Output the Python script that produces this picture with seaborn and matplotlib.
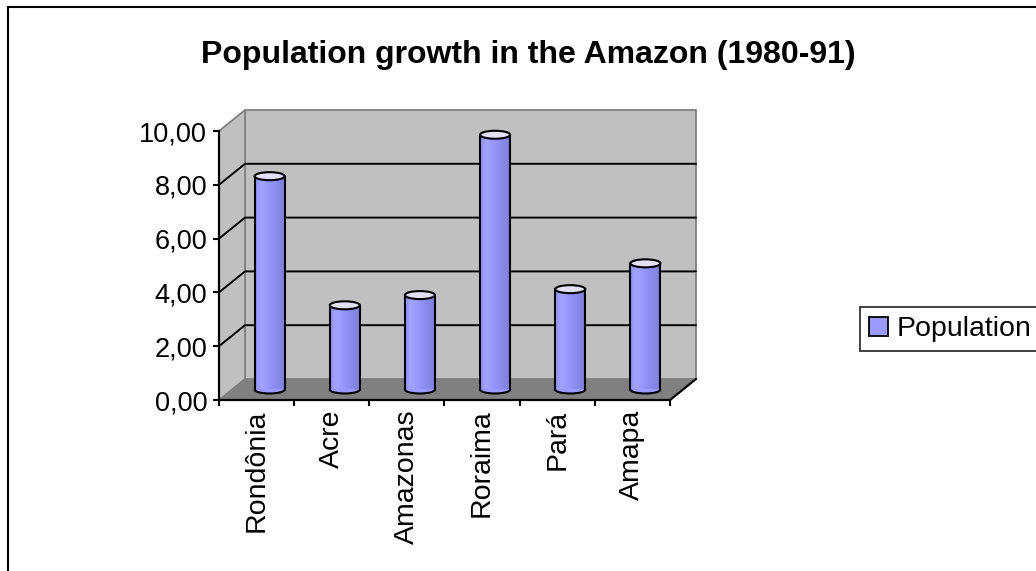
import numpy as np
import matplotlib
matplotlib.use("Agg")
import matplotlib.pyplot as plt
import matplotlib.transforms as mtransforms
from matplotlib.patches import Polygon, Ellipse, Rectangle, Patch, Arc
from matplotlib.colors import LinearSegmentedColormap
import seaborn as sns

# ---------------- data ----------------
categories = ["Rondônia", "Acre", "Amazonas", "Roraima", "Pará", "Amapa"]
values = [7.93, 3.13, 3.51, 9.47, 3.73, 4.69]
yticks = [0, 2, 4, 6, 8, 10]
ytick_labels = ["0,00", "2,00", "4,00", "6,00", "8,00", "10,00"]
title = "Population growth in the Amazon (1980-91)"
legend_label = "Population"

# ---------------- style ----------------
sns.set_theme(style="white")
plt.rcParams["font.family"] = ["Liberation Sans", "DejaVu Sans"]
plt.rcParams["text.color"] = "black"
plt.rcParams["xtick.color"] = "black"
plt.rcParams["ytick.color"] = "black"
plt.rcParams["axes.labelcolor"] = "black"

BAR = "#9999FF"
WALL = "#C0C0C0"
FLOOR = "#808080"

W, H, DPI = 1036, 571, 100
fig = plt.figure(figsize=(W / DPI, H / DPI), dpi=DPI)
fig.patch.set_facecolor("white")

# front plane of the 3-D box (pixel layout)
x0, x1 = 219, 670
yb, yt = 400, 131
ax = fig.add_axes([x0 / W, 1 - yb / H, (x1 - x0) / W, (yb - yt) / H])
ax.patch.set_visible(False)

n = len(categories)
xl, xr = -0.5, n - 0.5
px_per_cat = (x1 - x0) / n
px_per_val = (yb - yt) / 10.0
DX, DY = 26, 21
dxu, dyu = DX / px_per_cat, DY / px_per_val

# walls and floor
ax.add_patch(Polygon([(xl + dxu, dyu), (xr + dxu, dyu), (xr + dxu, 10 + dyu), (xl + dxu, 10 + dyu)],
                     closed=True, fc=WALL, ec="#808080", lw=1.3, zorder=0, clip_on=False))
ax.add_patch(Polygon([(xl, 0), (xl + dxu, dyu), (xl + dxu, 10 + dyu), (xl, 10)],
                     closed=True, fc=WALL, ec="#808080", lw=1.3, zorder=0, clip_on=False))
ax.add_patch(Polygon([(xl, 0), (xr, 0), (xr + dxu, dyu), (xl + dxu, dyu)],
                     closed=True, fc=FLOOR, ec="none", zorder=0.5, clip_on=False))
ax.plot([xr, xr + dxu], [0, dyu], color="black", lw=1.6, zorder=1, clip_on=False)
for v in yticks[1:-1]:
    ax.plot([xl, xl + dxu, xr + dxu], [v, v + dyu, v + dyu], color="black", lw=1.4,
            zorder=0.8, clip_on=False)

# bars (cylinders)
sns.barplot(x=categories, y=values, color=BAR, saturation=1, width=0.4, ax=ax,
            edgecolor="none", zorder=3)
bars = list(ax.containers[0])

mid = mtransforms.offset_copy(ax.transData, fig=fig, x=DX / 2, y=DY / 2, units="dots")
eh = 8 / px_per_val
cmap = LinearSegmentedColormap.from_list(
    "cyl", [(0.0, "#8E8EF2"), (0.18, "#A4A4FF"), (0.45, "#9696FA"), (0.7, "#8A8AEC"), (1.0, "#7E7EDC")])
grad = np.linspace(0, 1, 64)[None, :]

for p in bars:
    p.set_transform(mid)
    p.set_clip_on(False)
    x, w, h = p.get_x(), p.get_width(), p.get_height()
    cx = x + w / 2
    # bottom half-ellipse
    ax.add_patch(Ellipse((cx, 0), w, eh, fc=BAR, ec="none", transform=mid, zorder=2.9, clip_on=False))
    ax.add_patch(Arc((cx, 0), w, eh, theta1=180, theta2=360, color="black", lw=1.5,
                     transform=mid, zorder=4, clip_on=False))
    im = ax.imshow(grad, extent=[x, x + w, 0, h], transform=mid, aspect="auto",
                   cmap=cmap, zorder=3.1, interpolation="bilinear")
    im.set_clip_path(p)
    ax.plot([x, x], [0, h], color="black", lw=1.5, transform=mid, zorder=4, clip_on=False)
    ax.plot([x + w, x + w], [0, h], color="black", lw=1.5, transform=mid, zorder=4, clip_on=False)
    ax.add_patch(Ellipse((cx, h), w, eh, fc="#E2E2F4", ec="black", lw=1.5, transform=mid,
                         zorder=5, clip_on=False))

ax.set_xlim(xl, xr)
ax.set_ylim(0, 10)
ax.set_aspect("auto")

# axes
for s in ["top", "right"]:
    ax.spines[s].set_visible(False)
for s in ["left", "bottom"]:
    ax.spines[s].set_visible(True)
    ax.spines[s].set_color("black")
    ax.spines[s].set_linewidth(1.6)
    ax.spines[s].set_zorder(6)

ax.set_yticks(yticks, ytick_labels)
ax.tick_params(axis="y", left=True, direction="out", length=4.5, width=1.5, labelsize=19.5,
               pad=4, colors="black", labelcolor="black")
ax.set_xticks(range(n), categories, rotation=90)
ax.set_xticks(np.arange(xl, xr + 0.01, 1), minor=True)
ax.tick_params(axis="x", which="major", bottom=False, length=0, labelsize=20.5, pad=7,
               labelcolor="black")
ax.tick_params(axis="x", which="minor", bottom=True, direction="out", length=4.5, width=1.5,
               color="black")
ax.set_xlabel("")
ax.set_ylabel("")
ax.grid(False)

# title
fig.text(528 / W, 1 - 55 / H, title, ha="center", va="center", fontsize=23,
         fontweight="bold", color="black")

# legend
handle = Patch(facecolor=BAR, edgecolor="black", linewidth=1.3)
leg = fig.legend([handle], [legend_label], loc="upper left",
                 bbox_to_anchor=(860 / W, 1 - 307 / H), borderaxespad=0, fontsize=20.5,
                 frameon=True, fancybox=False, handlelength=0.66, handleheight=0.66,
                 handletextpad=0.3, borderpad=0.32, labelcolor="black")
leg.get_frame().set_edgecolor("black")
leg.get_frame().set_linewidth(1.3)
leg.get_frame().set_facecolor("white")

# outer chart border
fig.add_artist(Rectangle((8 / W, -0.2), 2, 1.2 - 7 / H, transform=fig.transFigure,
                         fill=False, ec="black", lw=1.5))

fig.savefig("out.png", dpi=DPI)
